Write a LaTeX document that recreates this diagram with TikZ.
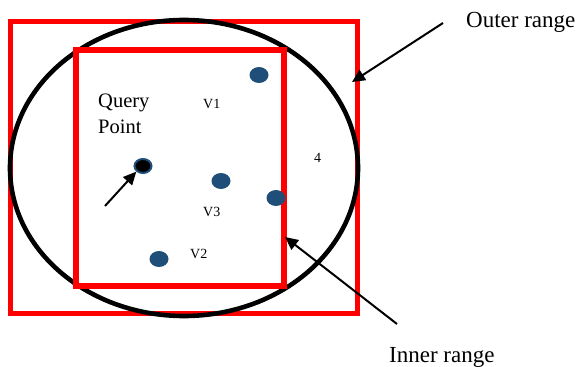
\documentclass[tikz,border=0pt]{standalone}
\usepackage{fontspec}
\setmainfont{Liberation Serif}
\definecolor{dotblue}{RGB}{31,78,121}
\definecolor{rangered}{RGB}{255,0,0}
\begin{document}
\begin{tikzpicture}[x=1pt,y=-1pt,
  rangebox/.style={draw=rangered,line width=5.5pt},
  circleline/.style={draw=black,line width=4.6pt},
  pt/.style={ellipse,fill=dotblue,minimum width=19pt,minimum height=16pt,inner sep=0pt},
  qpt/.style={ellipse,fill=black,draw=dotblue,line width=2pt,minimum width=17pt,minimum height=14pt,inner sep=0pt},
  biglabel/.style={font=\fontsize{23}{26}\selectfont,anchor=base west,inner sep=0pt},
  qlabel/.style={font=\fontsize{20.5}{26}\selectfont,anchor=base west,inner sep=0pt},
  vlabel/.style={font=\fontsize{14}{16}\selectfont,anchor=base west,inner sep=0pt},
  pointer/.style={draw=black,line width=2pt,-{Triangle[length=13pt,width=12pt]}},
  ]
\usetikzlibrary{shapes.geometric,arrows.meta}
\useasboundingbox (0,0) rectangle (579,367);

% the two search ranges and the circular region
\node[rangebox,rectangle,minimum width=347pt,minimum height=292pt,inner sep=0pt] (outer) at (184,167.5) {};
\node[circleline,ellipse,minimum width=348pt,minimum height=296pt,inner sep=0pt] (circ) at (184,168) {};
\node[rangebox,rectangle,minimum width=208pt,minimum height=236pt,inner sep=0pt] (inner) at (180,168) {};

% data points
\node[pt] (p1) at (259,75) {};
\node[pt] (p3) at (221,181) {};
\node[pt] (p4) at (276,198) {};
\node[pt] (p2) at (159,259) {};
\node[qpt] (q) at (143,166) {};

% labels
\node[qlabel] (qtxt1) at (98,107) {Query};
\node[qlabel] (qtxt2) at (98,133) {Point};
\node[vlabel] (v1) at (203,108) {V1};
\node[vlabel] (v3) at (203,216) {V3};
\node[vlabel] (v2) at (190,258) {V2};
\node[vlabel] (n4) at (314,162) {4};
\node[biglabel] (outerlbl) at (466,27) {Outer range};
\node[biglabel] (innerlbl) at (389,362) {Inner range};

% pointers
\coordinate (qtail) at (105,206);
\coordinate (otail) at (443,23);
\coordinate (ohead) at (352,82);
\coordinate (itail) at (397,324);
\coordinate (ihead) at (285,237);
\draw[pointer] (qtail) -- (q.south west);
\draw[pointer] (otail) -- (ohead);
\draw[pointer] (itail) -- (ihead);
\end{tikzpicture}
\end{document}
